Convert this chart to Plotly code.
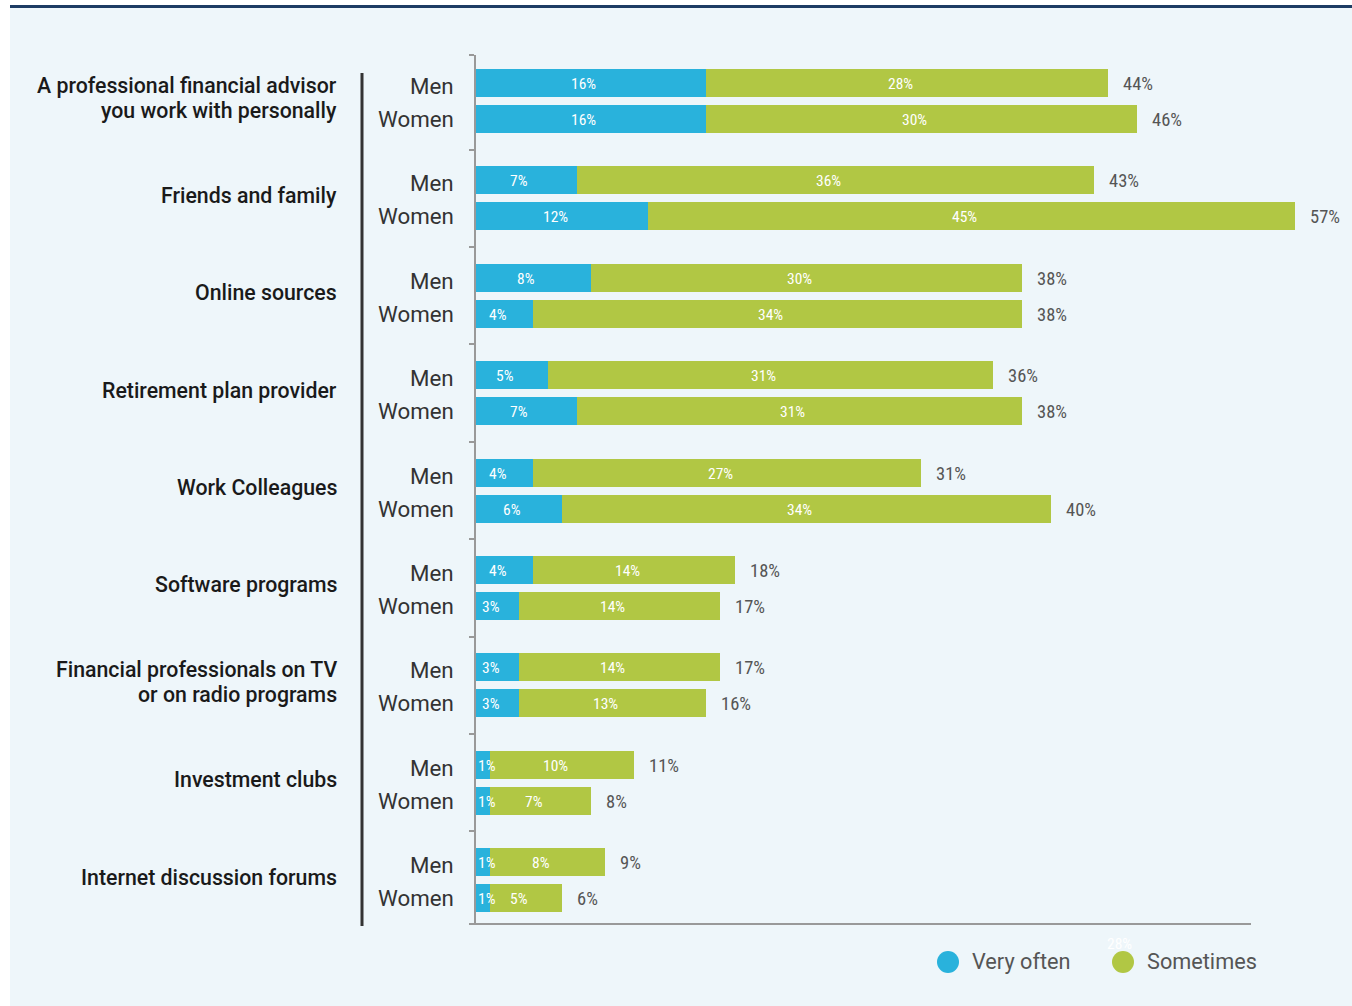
import plotly.graph_objects as go

# Sources of financial information, by gender (% who use each source)
categories = [
    "A professional financial advisor<br>you work with personally",
    "Friends and family",
    "Online sources",
    "Retirement plan provider",
    "Work Colleagues",
    "Software programs",
    "Financial professionals on TV<br>or on radio programs",
    "Investment clubs",
    "Internet discussion forums",
]
groups = ["Men", "Women"]
series_names = ["Very often", "Sometimes"]

men_very_often = [16, 7, 8, 5, 4, 4, 3, 1, 1]
men_sometimes = [28, 36, 30, 31, 27, 14, 14, 10, 8]
men_total = [44, 43, 38, 36, 31, 18, 17, 11, 9]

women_very_often = [16, 12, 4, 7, 6, 3, 3, 1, 1]
women_sometimes = [30, 45, 34, 31, 34, 14, 13, 7, 5]
women_total = [46, 57, 38, 38, 40, 17, 16, 8, 6]

BLUE = "#29b2dc"
GREEN = "#b1c744"
PANEL = "#eef6fa"
COND = "Roboto Condensed, Liberation Sans Narrow, DejaVu Sans Condensed, Arial Narrow, sans-serif"

OFFSET = 0.185   # half the distance between Men and Women bars
BAR_W = 0.287

fig = go.Figure()

rows = [
    (groups[0], -OFFSET, men_very_often, men_sometimes, men_total, 15),
    (groups[1], OFFSET, women_very_often, women_sometimes, women_total, -18),
]

annotations = []
for name, off, very, some, total, label_shift in rows:
    ys = [i + off for i in range(len(categories))]
    fig.add_trace(go.Bar(
        x=very, y=ys, orientation="h", width=BAR_W,
        marker=dict(color=BLUE, line=dict(width=0)),
        name=series_names[0], showlegend=False, hoverinfo="skip",
    ))
    fig.add_trace(go.Bar(
        x=some, y=ys, base=very, orientation="h", width=BAR_W,
        marker=dict(color=GREEN, line=dict(width=0)),
        name=series_names[1], showlegend=False, hoverinfo="skip",
    ))
    for g, (y, v, s, t) in enumerate(zip(ys, very, some, total)):
        inner = dict(family=COND, size=15.5, color="white")
        # value inside the blue segment
        if v < 2:
            annotations.append(dict(x=0, y=y, xref="x", yref="y", text=f"{v}%",
                                    xanchor="left", xshift=0, yshift=-1,
                                    showarrow=False, font=inner))
        else:
            annotations.append(dict(x=v / 2, y=y, xref="x", yref="y", text=f"{v}%",
                                    xanchor="center", xshift=-7, yshift=-1,
                                    showarrow=False, font=inner))
        # value inside the green segment
        annotations.append(dict(x=v + s / 2, y=y, xref="x", yref="y", text=f"{s}%",
                                xanchor="center", xshift=-7, yshift=-1,
                                showarrow=False, font=inner))
        # total at bar end
        annotations.append(dict(x=t, y=y, xref="x", yref="y", text=f"{t}%",
                                xanchor="left", xshift=13, yshift=-1, showarrow=False,
                                font=dict(family=COND, size=18.5, color="#555555")))
        # gender label
        annotations.append(dict(x=0, y=g, xref="x", yref="y", text=name,
                                xanchor="right", xshift=-20, yshift=label_shift,
                                showarrow=False,
                                font=dict(family="Roboto", size=22.3, color="#333333")))

# category labels, one annotation per line
LINE_GAP = 25
for i, c in enumerate(categories):
    lines = c.split("<br>")
    n = len(lines)
    for k, line in enumerate(lines):
        dy = (k - (n - 1) / 2) * LINE_GAP
        annotations.append(dict(x=0, y=i, xref="x", yref="y", text=line,
                                xanchor="right", xshift=-137, yshift=3 - dy,
                                showarrow=False,
                                font=dict(family="Roboto", size=21.3, color="#1a1a1a",
                                          weight=500)))

W, H = 1352, 1006
ML, MR, MT, MB = 476, 14, 55, 82
pw, ph = W - ML - MR, H - MT - MB


def px_to_paper(px, py):
    return (px - ML) / pw, 1 - (py - MT) / ph


shapes = []
# panel background and top rule
x0p, y0p = px_to_paper(10, 8)
x1p, y1p = px_to_paper(1352, 1006)
shapes.append(dict(type="rect", xref="paper", yref="paper", x0=x0p, x1=x1p, y0=y1p, y1=y0p,
                   fillcolor=PANEL, line=dict(width=0), layer="below"))
ax0, ay0 = px_to_paper(10, 6.5)
ax1, _ = px_to_paper(1352, 6.5)
shapes.append(dict(type="line", xref="paper", yref="paper", x0=ax0, x1=ax1, y0=ay0, y1=ay0,
                   line=dict(color="#1d3c64", width=3)))
# separator between category and gender labels
sx, sy0 = px_to_paper(362, 73)
_, sy1 = px_to_paper(362, 926)
shapes.append(dict(type="line", xref="paper", yref="paper", x0=sx, x1=sx, y0=sy1, y1=sy0,
                   line=dict(color="#333333", width=3)))
# baseline
bx0, _ = px_to_paper(469, 925)
bx1, _ = px_to_paper(1251, 925)
shapes.append(dict(type="line", xref="paper", yref="paper", x0=bx0, x1=bx1, y0=0, y1=0,
                   line=dict(color="#999999", width=2)))

# legend entries
legend_items = [(948, series_names[0], BLUE), (1123, series_names[1], GREEN)]
for cx, label, col in legend_items:
    lx, ly = px_to_paper(cx, 962)
    shapes.append(dict(type="circle", xref="paper", yref="paper", xsizemode="pixel",
                       ysizemode="pixel", xanchor=lx, yanchor=ly,
                       x0=-11, x1=11, y0=-11, y1=11, fillcolor=col, line=dict(width=0)))
    tx, ty = px_to_paper(cx + 22, 962)
    annotations.append(dict(x=tx, y=ty, xref="paper", yref="paper", text=label,
                            xanchor="left", yanchor="middle", showarrow=False,
                            font=dict(family="Roboto", size=21.7, color="#555555")))

# stray label sitting above the legend
gx, gy = px_to_paper(1119, 944)
annotations.append(dict(x=gx, y=gy, xref="paper", yref="paper", text="28%",
                        xanchor="center", yanchor="middle", showarrow=False,
                        font=dict(family=COND, size=15.5, color="white")))

fig.update_layout(
    width=W, height=H,
    margin=dict(l=ML, r=MR, t=MT, b=MB, pad=0),
    paper_bgcolor="white", plot_bgcolor="rgba(0,0,0,0)",
    barmode="overlay", bargap=0,
    showlegend=False,
    xaxis=dict(range=[0, 60], showgrid=False, zeroline=False, showticklabels=False,
               showline=False, ticks="", fixedrange=True),
    yaxis=dict(range=[8.45, -0.472], showgrid=False, zeroline=False,
               showline=True, linecolor="#999999", linewidth=2,
               tickmode="array", tickvals=[-0.472] + [i + 0.5 for i in range(8)],
               ticktext=[""] * 9, ticks="outside", ticklen=5, tickcolor="#999999",
               tickwidth=2, fixedrange=True),
    annotations=annotations,
    shapes=shapes,
)

fig.write_html("out.html")
